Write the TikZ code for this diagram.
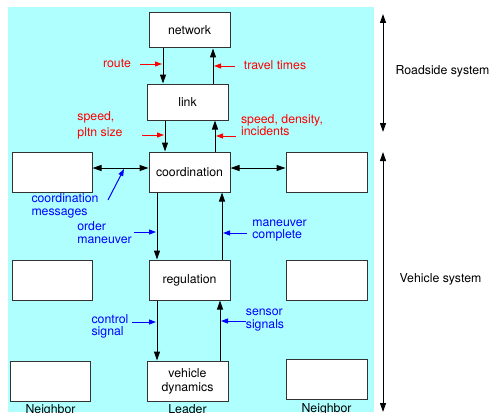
\documentclass[tikz,border=0pt]{standalone}
\usepackage{fontspec}
\setmainfont{TeX Gyre Heros}
\usetikzlibrary{arrows.meta,positioning}
\definecolor{bgcyan}{RGB}{176,255,255}
\tikzset{
  block/.style={draw=black!80,line width=1pt,fill=white,minimum width=81pt,minimum height=40pt,inner sep=1pt,align=center},
  flow/.style={line width=1pt,-{Triangle[length=9pt,width=6pt]}},
  note/.style={line width=1pt,-{Triangle[length=7pt,width=5pt]}},
  lbl/.style={inner sep=0pt,align=left},
}

\begin{document}
\begin{tikzpicture}[x=1pt,y=-1pt,font=\fontsize{12.3}{13}\selectfont]
  \useasboundingbox (0,0) rectangle (492,412);
  \fill[bgcyan] (8,7) rectangle (374,412);

  % roadside part
  \node[block,minimum height=35pt] (network) at (189.5,30.5) {network};
  \node[block,minimum height=36pt] (link) at (187.5,102) {link};

  % leader column and neighbors
  \node[block] (coord) at (189.5,172) {coordination};
  \node[block,minimum width=80pt] (nbl1) at (52,172) {};
  \node[block] (nbr1) at (326.5,172) {};
  \node[block] (reg) at (189.5,280) {regulation};
  \node[block,minimum width=80pt] (nbl2) at (52,280) {};
  \node[block] (nbr2) at (326.5,280) {};
  \node[block,font=\fontsize{12.3}{14}\selectfont] (veh) at (187.5,381) {vehicle\\dynamics};
  \node[block,minimum width=80pt] (nbl3) at (50.5,381) {};
  \node[block] (nbr3) at (326.5,379) {};

  \node[inner sep=0pt,below=3pt of nbl3] (nbl3txt) {Neighbor};
  \node[inner sep=0pt,below=3pt of veh] (vehtxt) {Leader};
  \node[inner sep=0pt,below=4pt of nbr3] (nbr3txt) {Neighbor};

  % columns of the vertical links
  \coordinate (c1) at (163,0);
  \coordinate (c2) at (213,0);
  \coordinate (c3) at (165,0);
  \coordinate (c4) at (215,0);
  \coordinate (c5) at (157,0);
  \coordinate (c6) at (222,0);
  \coordinate (c7) at (220,0);

  \draw[flow] (network.south -| c1) -- (link.north -| c1);
  \draw[flow] (link.north -| c2) -- (network.south -| c2);
  \draw[flow] (link.south -| c3) -- (coord.north -| c3);
  \draw[flow] (coord.north -| c4) -- (link.south -| c4);
  \draw[flow] (coord.south -| c5) -- (reg.north -| c5);
  \draw[flow] (reg.north -| c6) -- (coord.south -| c6);
  \draw[flow] (reg.south -| c5) -- (veh.north -| c5);
  \draw[flow] (veh.north -| c7) -- (reg.south -| c7);

  \draw[line width=1pt,{Triangle[length=9pt,width=6pt]}-{Triangle[length=9pt,width=6pt]}]
    ([yshift=4pt]nbl1.east) -- ([yshift=4pt]coord.west);
  \draw[line width=1pt,{Triangle[length=9pt,width=6pt]}-{Triangle[length=9pt,width=6pt]}]
    ([yshift=4pt]coord.east) -- ([yshift=4pt]nbr1.west);

  % red labels
  \node[lbl,red] (route) at (117,63) {route};
  \node[lbl,red] (travel) at (275,65) {travel times};
  \node[lbl,red,font=\fontsize{12.3}{16}\selectfont] (pltn) at (100,125) {speed,\\pltn size};
  \node[lbl,red,font=\fontsize{12.3}{11.5}\selectfont] (density) at (282,125) {speed, density,\\incidents};

  \coordinate (routeA) at (140,64);   \coordinate (routeB) at (162,64);
  \coordinate (travelA) at (235,66);  \coordinate (travelB) at (214,66);
  \coordinate (pltnA) at (142,135);   \coordinate (pltnB) at (164,135);
  \coordinate (densA) at (236,136);   \coordinate (densB) at (216,136);
  \draw[note,red] (routeA) -- (routeB);
  \draw[note,red] (travelA) -- (travelB);
  \draw[note,red] (pltnA) -- (pltnB);
  \draw[note,red] (densA) -- (densB);

  % blue labels
  \node[lbl,blue] (cmsg) at (65,205.5) {coordination\\messages};
  \node[lbl,blue] (order) at (104.5,232.5) {order\\maneuver};
  \node[lbl,blue,font=\fontsize{12.3}{12}\selectfont] (mcompl) at (279.5,231) {maneuver\\complete};
  \node[lbl,blue,font=\fontsize{12.3}{12}\selectfont] (ctrl) at (110,326) {control\\signal};
  \node[lbl,blue] (sensor) at (265,320.5) {sensor\\signals};

  \coordinate (cmsgA) at (108,200);   \coordinate (cmsgB) at (124,169);
  \coordinate (orderA) at (134,232);  \coordinate (orderB) at (156,232);
  \coordinate (mcomplA) at (247,233); \coordinate (mcomplB) at (223,233);
  \coordinate (ctrlA) at (132,322);   \coordinate (ctrlB) at (156,322);
  \coordinate (sensorA) at (246,321); \coordinate (sensorB) at (221,321);
  \draw[note,blue] (cmsgA) -- (cmsgB);
  \draw[note,blue] (orderA) -- (orderB);
  \draw[note,blue] (mcomplA) -- (mcomplB);
  \draw[note,blue] (ctrlA) -- (ctrlB);
  \draw[note,blue] (sensorA) -- (sensorB);

  % system extents
  \coordinate (rsTop) at (383,14);
  \coordinate (rsBot) at (383,132);
  \coordinate (vsTop) at (383,152);
  \coordinate (vsBot) at (383,412);
  \draw[line width=1pt,{Triangle[length=9pt,width=6pt]}-{Triangle[length=9pt,width=6pt]}] (rsTop) -- (rsBot);
  \draw[line width=1pt,{Triangle[length=9pt,width=6pt]}-{Triangle[length=9pt,width=6pt]}] (vsTop) -- (vsBot);
  \node[lbl] (roadside) at (442.5,71) {Roadside system};
  \node[lbl] (vehsys) at (440.5,279) {Vehicle system};
\end{tikzpicture}
\end{document}
